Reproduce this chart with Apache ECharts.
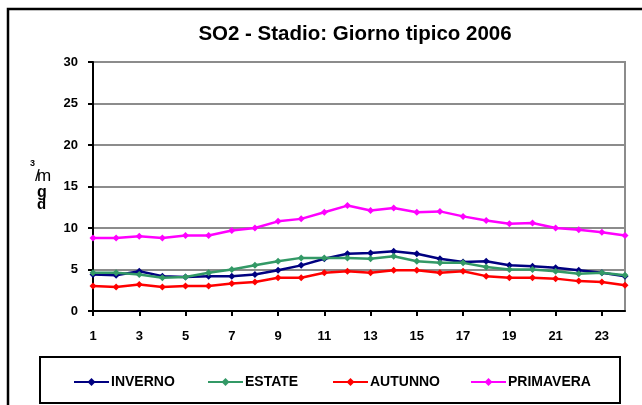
<!DOCTYPE html>
<html>
<head>
<meta charset="utf-8">
<script src="https://cdn.jsdelivr.net/npm/echarts@6/dist/echarts.min.js"></script>
<style>
  html, body { margin: 0; padding: 0; background: #fff; }
  #chart { width: 642px; height: 405px; }
</style>
</head>
<body>
<div id="chart"></div>
<script>
// Ore del giorno (1-24)
const hours = ['1','2','3','4','5','6','7','8','9','10','11','12','13','14','15','16','17','18','19','20','21','22','23','24'];

// Concentrazioni medie orarie SO2 (µg/m3) per stagione
const inverno   = [4.4, 4.3, 4.8, 4.2, 4.1, 4.2, 4.2, 4.4, 4.9, 5.5, 6.3, 6.9, 7.0, 7.2, 6.9, 6.3, 5.9, 6.0, 5.5, 5.4, 5.2, 4.9, 4.6, 4.2];
const estate    = [4.6, 4.6, 4.4, 4.0, 4.1, 4.6, 5.0, 5.5, 6.0, 6.4, 6.4, 6.4, 6.3, 6.6, 6.0, 5.8, 5.8, 5.3, 5.0, 5.0, 4.8, 4.5, 4.6, 4.3];
const autunno   = [3.0, 2.9, 3.2, 2.9, 3.0, 3.0, 3.3, 3.5, 4.0, 4.0, 4.6, 4.8, 4.6, 4.9, 4.9, 4.6, 4.8, 4.2, 4.0, 4.0, 3.9, 3.6, 3.5, 3.1];
const primavera = [8.8, 8.8, 9.0, 8.8, 9.1, 9.1, 9.7, 10.0, 10.8, 11.1, 11.9, 12.7, 12.1, 12.4, 11.9, 12.0, 11.4, 10.9, 10.5, 10.6, 10.0, 9.8, 9.5, 9.1];

const seriesNames = ['INVERNO', 'ESTATE', 'AUTUNNO', 'PRIMAVERA'];
const seriesData = [inverno, estate, autunno, primavera];
const seriesColors = ['#000080', '#339966', '#FF0000', '#FF00FF'];
const legendLeft = [73, 207, 332, 470];

const FONT = 'Liberation Sans, Arial, sans-serif';

// piccolo testo libero per l'unità di misura
function unitText(text, left, top, size, weight) {
  return {
    type: 'text', z: 100, silent: true, left: left, top: top,
    style: { text: text, fontFamily: FONT, fontSize: size, fontWeight: weight, fill: '#000' }
  };
}

const chart = echarts.init(document.getElementById('chart'));

const option = {
  animation: false,
  backgroundColor: '#ffffff',
  title: {
    text: 'SO2 - Stadio: Giorno tipico 2006',
    left: 350,
    top: 19,
    textAlign: 'center',
    textStyle: { fontFamily: FONT, fontSize: 20.5, fontWeight: 'bold', color: '#000' }
  },
  grid: {
    left: 93, right: 17, top: 62, bottom: 94,
    show: true,
    borderColor: '#8c8c8c',
    borderWidth: 2,
    containLabel: false
  },
  legend: seriesNames.map((name, i) => ({
    data: [name],
    left: legendLeft[i],
    top: 375,
    padding: 0,
    itemWidth: 35,
    itemHeight: 10,
    itemGap: 4,
    textStyle: { fontFamily: FONT, fontSize: 14, fontWeight: 'bold', color: '#000', padding: [0, 0, 0, -3] }
  })),
  xAxis: {
    type: 'category',
    data: hours,
    boundaryGap: false,
    axisLine: { lineStyle: { color: '#000', width: 2 } },
    axisTick: { interval: 1, length: 5, lineStyle: { color: '#000', width: 2 } },
    axisLabel: {
      interval: 1,
      margin: 19,
      fontFamily: FONT, fontSize: 13, fontWeight: 'bold', color: '#000'
    },
    splitLine: { show: false }
  },
  yAxis: {
    type: 'value',
    min: 0, max: 30, interval: 5,
    axisLine: { show: true, lineStyle: { color: '#000', width: 2 } },
    axisTick: { show: true, length: 5, lineStyle: { color: '#000', width: 2 } },
    axisLabel: {
      margin: 15,
      fontFamily: FONT, fontSize: 13, fontWeight: 'bold', color: '#000'
    },
    splitLine: { lineStyle: { color: '#8c8c8c', width: 2 } }
  },
  series: seriesNames.map((name, i) => ({
    name: name,
    type: 'line',
    data: seriesData[i],
    color: seriesColors[i],
    symbol: 'diamond',
    symbolSize: 7,
    showSymbol: true,
    lineStyle: { width: 2.5, color: seriesColors[i] },
    itemStyle: { color: seriesColors[i] },
    z: 3 + i
  })),
  graphic: [
    // cornice esterna
    {
      type: 'rect', z: 100, silent: true,
      shape: { x: 8, y: 9, width: 700, height: 500 },
      style: { fill: 'none', stroke: '#000', lineWidth: 2.5 }
    },
    // riquadro legenda
    {
      type: 'rect', z: 100, silent: true,
      shape: { x: 40, y: 357, width: 580, height: 46 },
      style: { fill: 'none', stroke: '#000', lineWidth: 2 }
    },
    // unità di misura sull'asse verticale (µg/m3)
    unitText('3', 30, 159, 9, 'bold'),
    unitText('m', 37, 168, 17, 'normal'),
    unitText('/', 35, 168, 17, 'normal'),
    unitText('g', 37, 185, 16, 'bold'),
    unitText('d', 37, 197, 15, 'bold')
  ]
};

chart.setOption(option);
</script>
</body>
</html>
